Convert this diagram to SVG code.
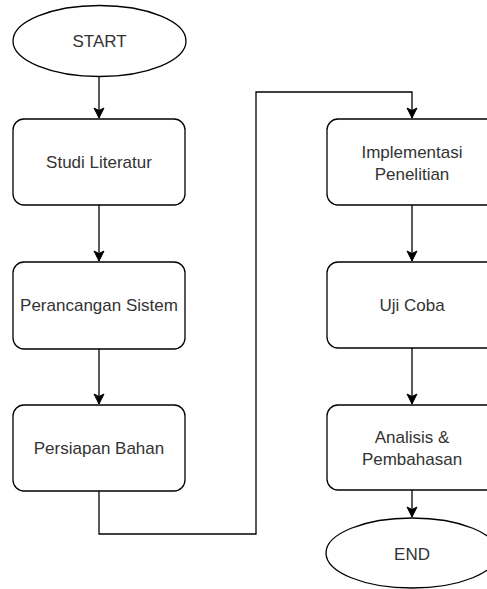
<svg xmlns="http://www.w3.org/2000/svg" width="487" height="589" viewBox="0 0 487 589">
<style>
.n{fill:#fff;stroke:#000;stroke-width:1.3}
.t{font-family:"Liberation Sans",Arial,sans-serif;font-size:17px;fill:#333;text-anchor:middle}
.c{fill:none;stroke:#000;stroke-width:1.3}
</style>
<defs>
<marker id="ah" markerUnits="userSpaceOnUse" markerWidth="12" markerHeight="12" viewBox="0 0 12 12" refX="11" refY="6" orient="auto">
<path d="M1,1 L11,6 L1,11 L3.5,6 Z" fill="#000" stroke="#000" stroke-width="1"/>
</marker>
</defs>
<rect width="487" height="589" fill="#fff"/>
<g id="connectors">
<path class="c" d="M99,77 V118" marker-end="url(#ah)"/>
<path class="c" d="M99,205 V261" marker-end="url(#ah)"/>
<path class="c" d="M99,349 V404" marker-end="url(#ah)"/>
<path class="c" d="M99,491 V534 H256 V92 H412 V118" marker-end="url(#ah)"/>
<path class="c" d="M412,205 V261" marker-end="url(#ah)"/>
<path class="c" d="M412,348 V404" marker-end="url(#ah)"/>
<path class="c" d="M412,490 V517" marker-end="url(#ah)"/>
</g>
<g id="start">
<ellipse class="n" cx="99.5" cy="41" rx="86.5" ry="35.5"/>
<text class="t" x="99.5" y="47">START</text>
</g>
<g id="studi">
<rect class="n" x="13" y="119" width="172" height="86" rx="11"/>
<text class="t" x="99" y="168">Studi Literatur</text>
</g>
<g id="perancangan">
<rect class="n" x="13" y="262" width="172" height="87" rx="11"/>
<text class="t" x="99" y="311">Perancangan Sistem</text>
</g>
<g id="persiapan">
<rect class="n" x="13" y="405" width="172" height="86" rx="11"/>
<text class="t" x="99" y="454">Persiapan Bahan</text>
</g>
<g id="implementasi">
<rect class="n" x="327" y="119" width="172" height="86" rx="11"/>
<text class="t" x="412" y="158">Implementasi</text>
<text class="t" x="412" y="180">Penelitian</text>
</g>
<g id="ujicoba">
<rect class="n" x="327" y="262" width="172" height="86" rx="11"/>
<text class="t" x="412" y="311">Uji Coba</text>
</g>
<g id="analisis">
<rect class="n" x="327" y="405" width="172" height="85" rx="11"/>
<text class="t" x="412" y="443">Analisis &amp;</text>
<text class="t" x="412" y="465">Pembahasan</text>
</g>
<g id="end">
<ellipse class="n" cx="412" cy="553" rx="86" ry="35"/>
<text class="t" x="412" y="560">END</text>
</g>
</svg>
